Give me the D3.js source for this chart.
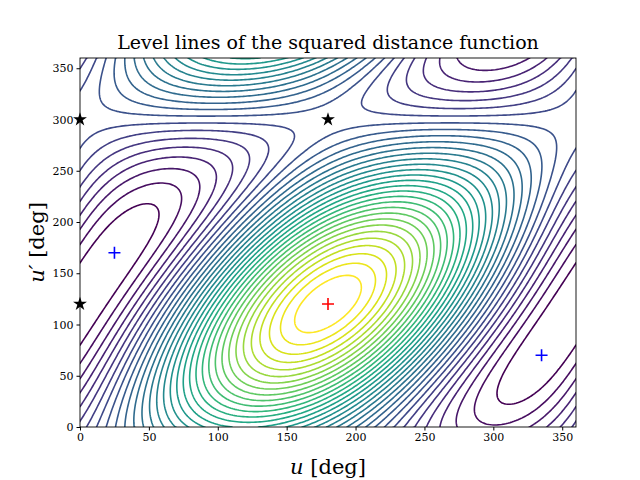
<!DOCTYPE html>
<html><head><meta charset="utf-8">
<script src="https://cdn.jsdelivr.net/npm/d3@7"></script>
<style>body{margin:0;background:#fff}</style></head>
<body><svg id="c" width="640" height="480"></svg>
<script>
// model coefficients of the squared distance (trig polynomial), centre of maximum
const coefA = [1.0, 0.5, 1.0];
const centre = [180, 120];
const xTicks = [0,50,100,150,200,250,300,350];
const yTicks = [0,50,100,150,200,250,300,350];
const minima = [[25,170],[335,70]];
const maxima = [[180,120]];
const saddles = [[0,300],[0,120],[180,300]];
const nLevels = 34;

const svg = d3.select("#c");
const L=80,R=576,T=58,B=427;
const x = d3.scaleLinear([0,360],[L,R]);
const y = d3.scaleLinear([0,360],[B,T]);
const n=241, step=360/(n-1), rad=Math.PI/180;
const vals=new Array(n*n);
for(let j=0;j<n;j++)for(let i=0;i<n;i++){
  const a=(i*step-centre[0])*rad, b=(j*step-centre[1])*rad;
  vals[j*n+i]=coefA[0]*Math.cos(a)+coefA[1]*Math.cos(b)+coefA[2]*Math.cos(a-b);
}
const ext=d3.extent(vals);
const th=d3.range(1,nLevels).map(k=>ext[0]+(ext[1]-ext[0])*k/nLevels);
const cs=d3.contours().size([n,n]).thresholds(th)(vals);
const color=d3.scaleSequential(d3.interpolateViridis).domain([th[0],th[th.length-1]]);
svg.append("clipPath").attr("id","cp").append("rect").attr("x",L).attr("y",T).attr("width",R-L).attr("height",B-T);
const proj=d3.geoTransform({point:function(px,py){this.stream.point(x((px-0.5)*step),y((py-0.5)*step));}});
const path=d3.geoPath(proj);
svg.append("g").attr("clip-path","url(#cp)").selectAll("path").data(cs).join("path")
 .attr("d",path).attr("fill","none").attr("stroke",d=>color(d.value)).attr("stroke-width",1.6);
svg.append("rect").attr("x",L).attr("y",T).attr("width",R-L).attr("height",B-T).attr("fill","none").attr("stroke","#000").attr("stroke-width",0.9);
const font="DejaVu Serif";
const gx=svg.append("g").attr("transform",`translate(0,${B})`).call(d3.axisBottom(x).tickValues(xTicks).tickSize(3.5));
const gy=svg.append("g").attr("transform",`translate(${L},0)`).call(d3.axisLeft(y).tickValues(yTicks).tickSize(3.5));
[gx,gy].forEach(g=>{g.select(".domain").remove();g.selectAll("text").attr("font-family",font).attr("font-size",11).attr("fill","#000");});
const cross=(data,col)=>svg.selectAll(null).data(data).join("path").attr("d","M-6,0H6M0,-6V6")
 .attr("transform",d=>`translate(${x(d[0])},${y(d[1])})`).attr("stroke",col).attr("stroke-width",1.6).attr("fill","none");
cross(minima,"#00f");cross(maxima,"#f00");
svg.selectAll(null).data(saddles).join("path").attr("d",d3.symbol(d3.symbolStar,60))
 .attr("transform",d=>`translate(${x(d[0])},${y(d[1])})`).attr("fill","#000");
svg.append("text").attr("x",(L+R)/2).attr("y",49).attr("text-anchor","middle").attr("font-family",font).attr("font-size",19).text("Level lines of the squared distance function");
const xl=svg.append("text").attr("x",(L+R)/2).attr("y",474).attr("text-anchor","middle").attr("font-family",font).attr("font-size",21);
xl.append("tspan").attr("font-style","italic").text("u");xl.append("tspan").text(" [deg]");
const yl=svg.append("text").attr("transform",`translate(44,${(T+B)/2}) rotate(-90)`).attr("text-anchor","middle").attr("font-family",font).attr("font-size",21);
yl.append("tspan").attr("font-style","italic").text("u′");yl.append("tspan").text(" [deg]");
</script></body></html>
